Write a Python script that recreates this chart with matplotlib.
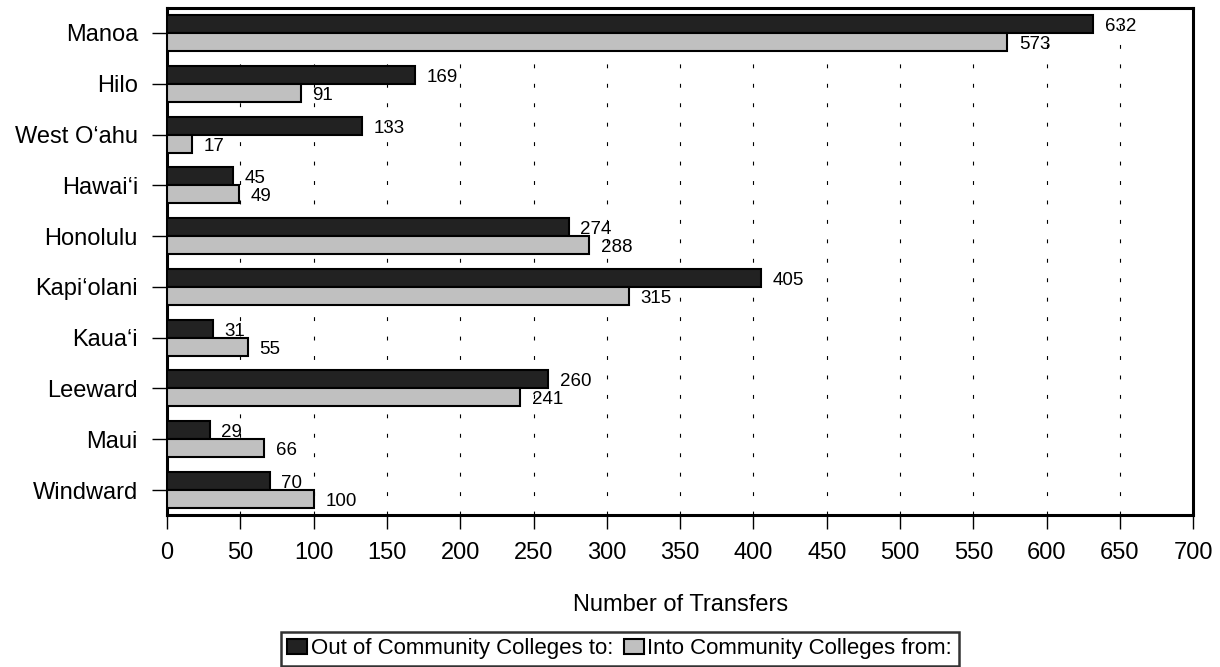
import matplotlib.pyplot as plt
import numpy as np

plt.rcParams['font.family'] = ['Liberation Sans', 'DejaVu Sans']

# Data
campuses = ["Manoa", "Hilo", "West O\u2018ahu", "Hawai\u2018i", "Honolulu",
            "Kapi\u2018olani", "Kaua\u2018i", "Leeward", "Maui", "Windward"]
out_of_cc = [632, 169, 133, 45, 274, 405, 31, 260, 29, 70]
into_cc = [573, 91, 17, 49, 288, 315, 55, 241, 66, 100]
xticks = np.arange(0, 701, 50)

fig = plt.figure(figsize=(12.2, 6.67), dpi=100)
ax = fig.add_axes([0.137, 0.2273, 0.841, 0.7613])

y = np.arange(len(campuses))
h = 0.355
b1 = ax.barh(y - h/2, out_of_cc, height=h, color="#222222", edgecolor="black",
             linewidth=1.5, label="Out of Community Colleges to:", zorder=3)
b2 = ax.barh(y + h/2, into_cc, height=h, color="#c0c0c0", edgecolor="black",
             linewidth=1.5, label="Into Community Colleges from:", zorder=3)

for bars, vals in [(b1, out_of_cc), (b2, into_cc)]:
    for bar, v in zip(bars, vals):
        ax.text(v + 8, bar.get_y() + bar.get_height()/2 + 0.05, str(v),
                ha="left", va="center", fontsize=13.5, zorder=4)

ax.set_xlim(0, 700)
ax.set_ylim(len(campuses) - 0.5, -0.5)
ax.set_xticks(xticks)
ax.set_yticks(y)
ax.set_yticklabels(campuses)
ax.tick_params(axis="both", direction="out", width=1, labelsize=17)
ax.tick_params(axis="y", length=11, pad=10)
ax.tick_params(axis="x", length=10, pad=9)
ax.xaxis.grid(True, color="black", linestyle=(0, (3.5, 14)), linewidth=0.8, zorder=0)
for s in ax.spines.values():
    s.set_linewidth(2.2)

ax.set_xlabel("Number of Transfers", fontsize=17, labelpad=22)

leg = fig.legend(handles=[b1, b2], loc="lower center", ncol=2,
                 bbox_to_anchor=(0.508, 0.0), fontsize=16, frameon=True,
                 fancybox=False, edgecolor="black", handlelength=0.9,
                 handleheight=0.7, handletextpad=0.15, columnspacing=0.5,
                 borderpad=0.3, borderaxespad=0.05)
leg.get_frame().set_linewidth(1.8)

fig.savefig("out.png", dpi=100)
